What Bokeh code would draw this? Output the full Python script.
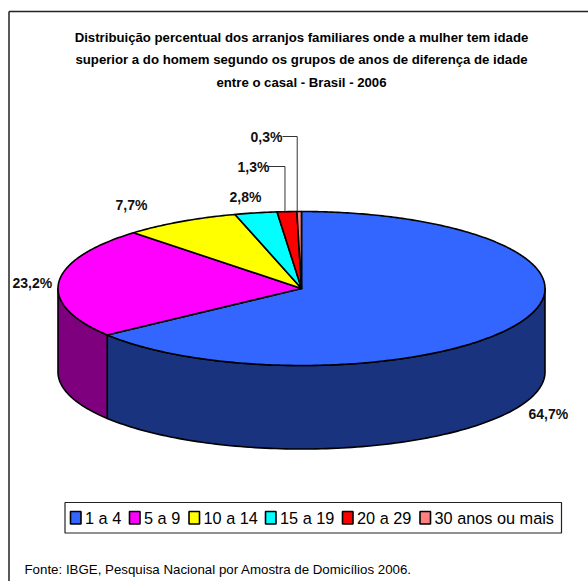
import math
import numpy as np
from bokeh.embed import file_html
from bokeh.models import Range1d
from bokeh.plotting import figure
from bokeh.resources import INLINE
from bokeh.core.properties import value

# Chart data
categories = ["1 a 4", "5 a 9", "10 a 14", "15 a 19", "20 a 29", "30 anos ou mais"]
shares = [64.7, 23.2, 7.7, 2.8, 1.3, 0.3]
share_labels = ["64,7%", "23,2%", "7,7%", "2,8%", "1,3%", "0,3%"]
top_colors = ["#3366FF", "#FF00FF", "#FFFF00", "#00FFFF", "#FF0000", "#FF8080"]
side_colors = ["#1A337F", "#7F007F", "#7F7F00", "#007F7F", "#7F0000", "#7F4040"]
title_lines = [
    "Distribuição percentual dos arranjos familiares onde a mulher tem idade",
    "superior a do homem segundo os grupos de anos de diferença de idade",
    "entre o casal - Brasil - 2006",
]
source_text = "Fonte: IBGE, Pesquisa Nacional por Amostra de Domicílios 2006."

# Layout, in page pixels
W, H = 588, 581
CX, CY, RX, RY, DEPTH = 301.0, 288.0, 243.5, 77.0, 83.5
FONT = value("Liberation Sans")

p = figure(width=W, height=H, output_backend="svg", toolbar_location=None,
           x_range=Range1d(0, W), y_range=Range1d(H, 0),
           x_axis_location=None, y_axis_location=None, min_border=0,
           outline_line_color=None, background_fill_color="white",
           border_fill_color="white")
p.grid.visible = False


def rim(theta):
    """Pixel position on the upper rim for a clockwise angle measured from 12 o'clock."""
    return CX + RX * np.sin(theta), CY - RY * np.cos(theta)


# Frame: only the top and left edges fall inside the page
p.line([8.5, 8.5], [H, 11], line_color="#222222", line_width=1.5)
p.line([8.5, W], [11, 11], line_color="#222222", line_width=1.5)

edges = np.concatenate([[0.0], np.cumsum(shares)]) / sum(shares) * 2 * math.pi

# Visible wall of the cylinder: the front half, pi/2 .. 3*pi/2
for i in range(len(shares)):
    lo, hi = max(edges[i], math.pi / 2), min(edges[i + 1], 3 * math.pi / 2)
    if hi <= lo:
        continue
    t = np.linspace(lo, hi, 120)
    x, y = rim(t)
    p.patch(np.r_[x, x[::-1]], np.r_[y, y[::-1] + DEPTH],
            fill_color=side_colors[i], line_color="black", line_width=1.6,
            line_join="round")

# Top face
for i in range(len(shares)):
    n = max(4, int((edges[i + 1] - edges[i]) * 80))
    t = np.linspace(edges[i], edges[i + 1], n)
    x, y = rim(t)
    p.patch(np.r_[CX, x], np.r_[CY, y],
            fill_color=top_colors[i], line_color="black", line_width=1.6,
            line_join="round")

# Leader lines for the two thinnest slices
for i, elbow_y, start_x, shift in [(4, 166, 268, -2.0), (5, 136, 282, -2.0)]:
    mx, my = rim((edges[i] + edges[i + 1]) / 2)
    p.line([start_x, mx + shift, mx + shift], [elbow_y, elbow_y, my],
           line_color="#333333", line_width=1)

# Slice value labels
label_x = [528, 12, 115, 229, 237, 250]
label_y = [413, 282, 204, 196, 166, 136]
p.text(label_x, label_y, text=share_labels, text_font=FONT, text_font_size="14px",
       text_font_style="bold", text_color="#111111", text_baseline="middle",
       text_align="left")

# Title
p.text([301] * 3, [36.5, 59, 82], text=title_lines, text_font=FONT,
       text_font_size="13.2px", text_font_style="bold", text_color="black",
       text_align="center", text_baseline="middle")

# Legend box with its swatches and entries
p.quad(left=[64.5], right=[561], top=[502], bottom=[532.5], fill_color="white",
       line_color="#222222", line_width=1.2)
swatch_x = [70, 129, 188.5, 265, 342, 419.5]
p.quad(left=swatch_x, right=[v + 10.5 for v in swatch_x], top=[511] * 6, bottom=[523.5] * 6,
       fill_color=top_colors, line_color="black", line_width=1.6)
p.text([v + 14.5 for v in swatch_x], [517.5] * 6, text=categories, text_font=FONT,
       text_font_size="16.3px", text_color="black", text_baseline="middle", text_align="left")

# Source note
p.text([24], [569], text=[source_text], text_font=FONT, text_font_size="13.3px",
       text_color="black", text_baseline="middle", text_align="left")

open("out.html", "w").write(file_html(p, INLINE))
